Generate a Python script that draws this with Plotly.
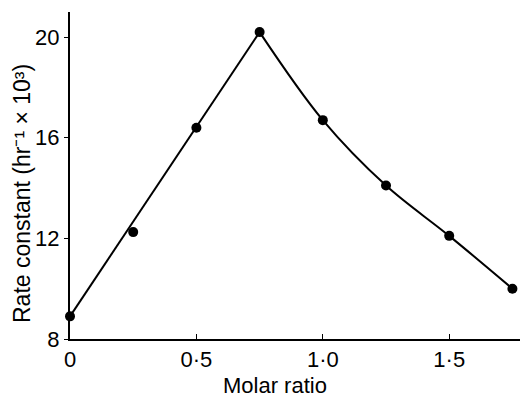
import plotly.graph_objects as go

molar_ratio = [0, 0.25, 0.5, 0.75, 1.0, 1.25, 1.5, 1.75]
rate_constant = [8.9, 12.25, 16.4, 20.2, 16.7, 14.1, 12.1, 10.0]
peak_index = 3
x_tickvals = [0, 0.5, 1.0, 1.5]
x_ticktext = ["0", "0·5", "1·0", "1·5"]
y_tickvals = [8, 12, 16, 20]
y_ticktext = ["8", "12", "16", "20"]

FONT = "Liberation Sans, Arial, sans-serif"

fig = go.Figure()
# rising fitted line: straight from first point to the peak
fig.add_trace(go.Scatter(x=[molar_ratio[0], molar_ratio[peak_index]],
                         y=[rate_constant[0], rate_constant[peak_index]],
                         mode="lines", line=dict(color="black", width=2),
                         cliponaxis=False, showlegend=False))
# falling fitted curve
fig.add_trace(go.Scatter(x=molar_ratio[peak_index:], y=rate_constant[peak_index:],
                         mode="lines", line=dict(color="black", width=2, shape="spline", smoothing=1.0),
                         cliponaxis=False, showlegend=False))
fig.add_trace(go.Scatter(x=molar_ratio, y=rate_constant, mode="markers",
                         marker=dict(color="black", size=10), cliponaxis=False, showlegend=False))

L, R, T, B = 70, 1, 12, 63
W, H = 521, 402
plot_w = W - L - R
plot_h = H - T - B

def px_x(px):
    return (px - L) / plot_w

def px_y(py):
    return (H - B - py) / plot_h

fig.update_layout(
    width=W, height=H,
    margin=dict(l=L, r=R, t=T, b=B),
    paper_bgcolor="white", plot_bgcolor="white",
    font=dict(family=FONT, color="black", size=22),
    xaxis=dict(range=[0, 1.78], tickvals=x_tickvals, ticktext=x_ticktext,
               showline=True, linecolor="black", linewidth=2, showgrid=False, zeroline=False,
               ticks="inside", ticklen=5, tickwidth=1, tickcolor="black",
               tickfont=dict(family=FONT, size=22)),
    yaxis=dict(range=[8, 21.0], tickvals=y_tickvals, ticktext=y_ticktext,
               showline=True, linecolor="black", linewidth=2, showgrid=False, zeroline=False,
               ticks="outside", ticklen=4, tickwidth=1, tickcolor="black",
               tickfont=dict(family=FONT, size=22)),
    annotations=[
        dict(text="Molar ratio", x=px_x(275), y=px_y(385), xref="paper", yref="paper",
             xanchor="center", yanchor="middle", showarrow=False,
             font=dict(family=FONT, size=22)),
        dict(text="Rate constant (hr⁻¹ × 10³)", x=px_x(22), y=px_y(194),
             xref="paper", yref="paper", xanchor="center", yanchor="middle",
             showarrow=False, textangle=-90,
             font=dict(family=FONT, size=23)),
    ],
)
fig.write_html("out.html")
